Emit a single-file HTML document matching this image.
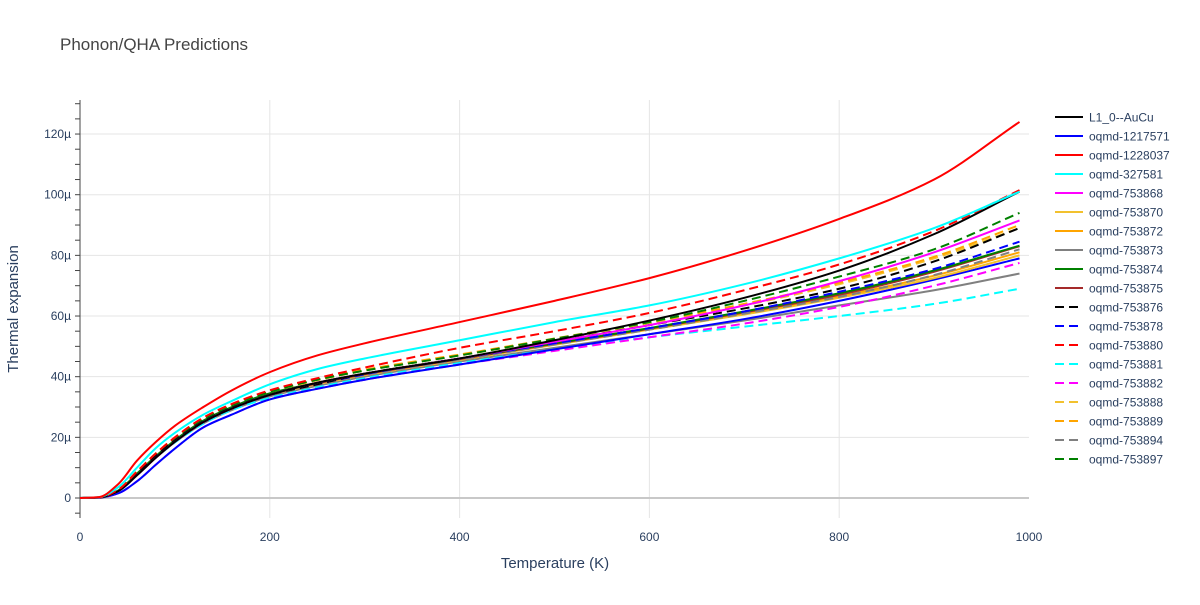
<!DOCTYPE html>
<html><head><meta charset="utf-8"><style>
body{margin:0;background:#fff;font-family:"Liberation Sans",sans-serif}
svg text{font-family:"Liberation Sans",sans-serif;fill:#2a3f5f}
</style></head><body>
<svg id="chart" width="1200" height="600">
<text x="60" y="50" font-size="17" style="fill:#444">Phonon/QHA Predictions</text>
<g id="grid"></g><g id="axes"></g><g id="series"></g><g id="legend"></g>
<text x="555" y="568" font-size="15" text-anchor="middle">Temperature (K)</text>
<text transform="translate(18,309) rotate(-90)" font-size="15" text-anchor="middle">Thermal expansion</text>
</svg>
<script>
const temps=[0,20,40,60,80,100,130,160,200,250,300,400,500,600,700,800,900,990];
const names=["L1_0--AuCu","oqmd-1217571","oqmd-1228037","oqmd-327581","oqmd-753868","oqmd-753870","oqmd-753872","oqmd-753873","oqmd-753874","oqmd-753875","oqmd-753876","oqmd-753878","oqmd-753880","oqmd-753881","oqmd-753882","oqmd-753888","oqmd-753889","oqmd-753894","oqmd-753897"];
const colors=["#000","#00f","#f00","#0ff","#f0f","#f2c12e","#ffa500","#808080","#008000","#a52a2a","#000","#00f","#f00","#0ff","#f0f","#f2c12e","#ffa500","#808080","#008000"];
const dashed=[0,0,0,0,0,0,0,0,0,0,1,1,1,1,1,1,1,1,1];
const s0=[0,0.15,2.2,7.5,13.3,18.5,25,29.5,34,38,41,46,52,58.5,66,75,87,101];
const s1=[0,0.1,1.5,5.5,11,16.3,23.3,27.5,32.5,36,39,44,49,54,59,65,72,79];
const s2=[0,0.3,4.5,12.3,18.5,23.8,30,35.5,41.5,47,51,58,65,72.5,81.5,92,105,124];
const s3=[0,0.25,3.5,10,16.5,21.5,27.5,32,37.5,42.5,46,52,58,63.5,70.5,79,89,101];
const s4=[0,0.15,2.2,7.5,13.3,18.5,25,29.5,34,38,41,46,51.5,57,63.5,71.5,81,91.5];
const s5=[0,0.15,2.2,7.5,13.3,18.5,25,29.5,34,37.5,40.5,45.5,50.5,55.5,60.5,66,72.5,80];
const s6=[0,0.15,2.4,8,13.8,19,25.3,29.8,34.3,38,41,46,51,55.8,61,66.5,73.3,81];
const s7=[0,0.15,2.2,7.5,13.3,18.4,24.6,29,33.5,37,40,45,49.5,54,58.5,63.5,68.5,74];
const s8=[0,0.15,2.4,8,13.8,19,25.5,30,34.5,38,41,46,51,56,61.5,67.5,75,83.2];
const s9=[0,0.15,2.4,8,13.8,19,25.4,29.8,34.3,37.8,40.8,45.8,50.8,55.8,61.2,67,74.6,83];
const s10=[0,0.15,2.4,8,13.8,19,25.3,29.8,34,37.5,41,46,51.5,57,62.5,69,78,89];
const s11=[0,0.15,2.4,8,13.8,18.8,25,29.5,34,37.5,40.8,46,51,56,61.5,68,75.5,84.5];
const s12=[0,0.2,2.7,8.7,14.7,20,26.5,31,35.5,39.5,43,49.5,55,61,68.5,77,88,101.5];
const s13=[0,0.15,2.2,7.5,13.3,18.3,24.5,29,33,36.5,39.5,44.5,49,53,56.5,60,64,69];
const s14=[0,0.1,1.5,5.5,11,16.3,23.3,27.5,32.5,36,39,44,48.5,53,57.5,63,70,77.5];
const s15=[0,0.2,2.7,8.7,14.7,19.8,26,30.5,35,38.8,42,47,52.3,57.5,63.5,70.5,79,89];
const s16=[0,0.2,2.7,8.7,14.7,19.9,26.2,30.7,35.2,39,42.3,47.3,52.6,58,64,71,79.5,90];
const s17=[0,0.15,2.4,8,13.8,18.9,25.2,29.6,34,37.6,40.6,45.6,50.6,55.5,60.8,66.3,73.5,82];
const s18=[0,0.2,2.7,8.7,14.7,19.8,26,30.5,35,39,42,47,52.5,58,65,73,82,94];
const series=[s0,s1,s2,s3,s4,s5,s6,s7,s8,s9,s10,s11,s12,s13,s14,s15,s16,s17,s18];
const xTicks=[0,200,400,600,800,1000];
const yTicks=[0,20,40,60,80,100,120];
const NS="http://www.w3.org/2000/svg";
const X=t=>80+t*0.949;
const Y=v=>498-v*3.033;
function mk(tag,attrs,parent){const e=document.createElementNS(NS,tag);for(const k in attrs)e.setAttribute(k,attrs[k]);parent.appendChild(e);return e;}
const grid=document.getElementById('grid'),axes=document.getElementById('axes');
xTicks.forEach(t=>{
  if(t>0&&t<1000){const l=mk('line',{x1:X(t),x2:X(t),y1:100,y2:518,stroke:'#e5e5e5','stroke-width':1},grid);
  
  }
  const tx=mk('text',{x:X(t),y:541,'font-size':12,'text-anchor':'middle'},axes);tx.textContent=t;
  
  
});
yTicks.forEach(v=>{
  const l=mk('line',{x1:80,x2:1029,y1:Y(v),y2:Y(v),stroke:v===0?'#c8c8c8':'#e5e5e5','stroke-width':v===0?2:1},grid);
  
  
  const tx=mk('text',{x:71,y:Y(v)+4,'font-size':12,'text-anchor':'end'},axes);tx.textContent=v===0?'0':v+'µ';
  
  
});
const ax=mk('line',{x1:80,x2:80,y1:100,y2:518,stroke:'#444','stroke-width':1},axes);


for(let v=-5;v<=130;v+=5){if(Y(v)<100||Y(v)>518)continue;mk('line',{x1:75,x2:80,y1:Y(v),y2:Y(v),stroke:'#444','stroke-width':1},axes);}
function path(vals){
  const n=vals.length,xs=temps.map(X),ys=vals.map(Y);
  const dx=[],m=[];
  for(let i=0;i<n-1;i++){dx.push(xs[i+1]-xs[i]);m.push((ys[i+1]-ys[i])/dx[i]);}
  const tg=[m[0]];
  for(let i=1;i<n-1;i++){
    if(m[i-1]*m[i]<=0)tg.push(0);
    else{const w1=2*dx[i]+dx[i-1],w2=dx[i]+2*dx[i-1];tg.push((w1+w2)/(w1/m[i-1]+w2/m[i]));}
  }
  tg.push(m[n-2]);
  let d='M'+xs[0]+','+ys[0];
  for(let i=0;i<n-1;i++){
    const h=dx[i]/3;
    d+=`C${xs[i]+h},${ys[i]+tg[i]*h} ${xs[i+1]-h},${ys[i+1]-tg[i+1]*h} ${xs[i+1]},${ys[i+1]}`;
  }
  return d;
}
const sg=document.getElementById('series'),lg=document.getElementById('legend');
const order=[7,13,14,1,5,6,9,8,17,11,15,16,10,4,18,0,12,3,2];
order.forEach(i=>{
  const pl=mk('path',{d:path(series[i]),fill:'none',stroke:colors[i],'stroke-width':2,'stroke-dasharray':dashed[i]?'9,5':'none'},sg);
  
  
});
names.forEach((n,i)=>{
  const y=117+i*19;
  const g=mk('g',{},lg);
  
  
  mk('line',{x1:1055,x2:1083,y1:y,y2:y,stroke:colors[i],'stroke-width':2,'stroke-dasharray':dashed[i]?'9,5':'none'},g);
  const t=mk('text',{x:1089,y:y+4.5,'font-size':12},g);t.textContent=n;
});
</script>
</body></html>
